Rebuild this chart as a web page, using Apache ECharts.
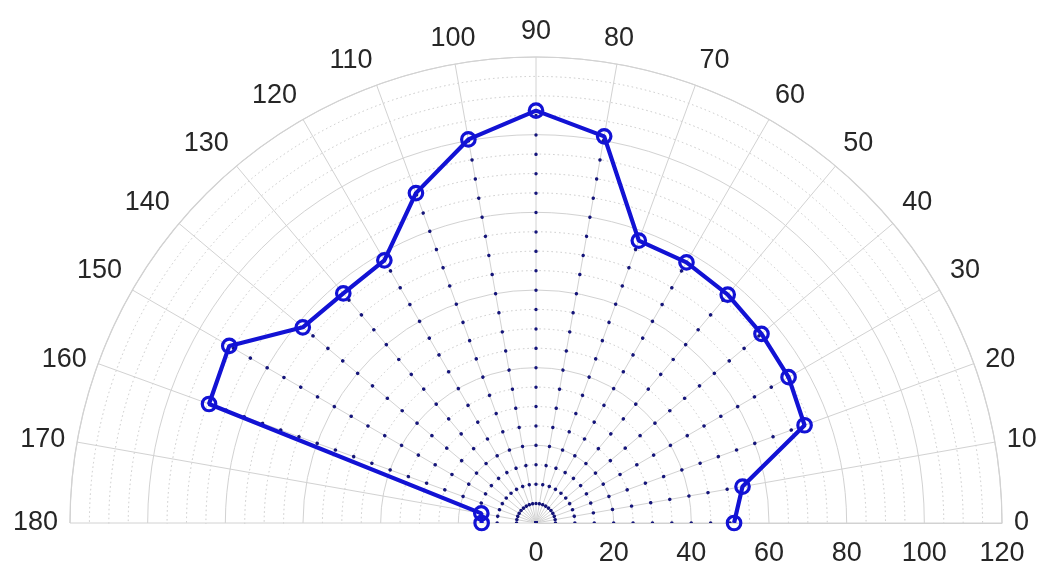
<!DOCTYPE html>
<html>
<head>
<meta charset="utf-8">
<script src="https://cdn.jsdelivr.net/npm/echarts@6/dist/echarts.min.js"></script>
<style>
  html, body { margin: 0; padding: 0; background: #fff; }
  #chart { width: 1045px; height: 567px; }
</style>
</head>
<body>
<div id="chart"></div>
<script>
// angles in degrees, radius values
const angles = [0, 10, 20, 30, 40, 50, 60, 70, 80, 90, 100, 110, 120, 130, 140, 150, 160, 170, 180]
const radii = [51, 54, 73.6, 75.1, 75.8, 76.8, 77.5, 77.4, 101.1, 106.2, 100.3, 90.4, 78.1, 77.2, 78.4, 91.2, 89.6, 14.3, 14.0]
const radiusTicks = [0, 20, 40, 60, 80, 100, 120]
// these two angle labels sit level with their spoke instead of above it
const levelLabels = [20, 160]

const gridColor = '#d2d2d2'
const textColor = '#262626'
const lineBlue = '#1212d4'
const dotBlue = '#15157a'
const labelFont = 'Liberation Sans, Arial, sans-serif'

const chart = echarts.init(document.getElementById('chart'), null, { renderer: 'canvas' })

const polarBox = { center: [536, 523], radius: 466 }

function angleAxisBase(polarIndex) {
  return {
    polarIndex,
    type: 'value',
    min: 0,
    max: 180,
    interval: 10,
    startAngle: 0,
    endAngle: 180,
    clockwise: false,
    axisTick: { show: false },
  }
}

function radiusAxisBase(polarIndex) {
  return {
    polarIndex,
    type: 'value',
    min: radiusTicks[0],
    max: radiusTicks[radiusTicks.length - 1],
    interval: 20,
    axisTick: { show: false },
  }
}

// dotted spokes from the centre to each point
const spokes = angles.map((a, i) => ({
  type: 'line',
  coordinateSystem: 'polar',
  polarIndex: 1,
  data: [[0, a], [radii[i], a]],
  symbol: 'none',
  silent: true,
  z: 4,
  lineStyle: {
    color: dotBlue,
    width: 3.4,
    type: [0.1, 19.3],
    cap: 'round',
  },
}))

const option = {
  backgroundColor: '#ffffff',
  animation: false,
  polar: [polarBox, polarBox, polarBox],
  angleAxis: [
    // grid only
    {
      ...angleAxisBase(0),
      z: 0,
      axisLine: { lineStyle: { color: gridColor, width: 1.2 } },
      axisLabel: { show: false },
      splitLine: { show: true, lineStyle: { color: gridColor, width: 1 } },
    },
    // labels
    {
      ...angleAxisBase(1),
      z: 3,
      axisLine: { show: false },
      splitLine: { show: false },
      axisLabel: {
        fontSize: 27,
        color: textColor,
        fontFamily: labelFont,
        margin: 12,
        formatter: (v) => (levelLabels.includes(v) ? '' : String(v)),
      },
    },
    {
      ...angleAxisBase(2),
      z: 3,
      axisLine: { show: false },
      splitLine: { show: false },
      axisLabel: {
        fontSize: 27,
        color: textColor,
        fontFamily: labelFont,
        margin: 12,
        padding: [0, 0, -14, 0],
        formatter: (v) => (levelLabels.includes(v) ? String(v) : ''),
      },
    },
  ],
  radiusAxis: [
    {
      ...radiusAxisBase(0),
      z: 0,
      axisLine: { show: true, lineStyle: { color: gridColor, width: 1 } },
      axisLabel: { show: false },
      splitLine: { show: true, lineStyle: { color: gridColor, width: 1 } },
      minorTick: { show: false, splitNumber: 4 },
      minorSplitLine: {
        show: true,
        lineStyle: { color: '#c9c9c9', width: 1, type: [1.5, 3] },
      },
    },
    {
      ...radiusAxisBase(1),
      z: 3,
      axisLine: { show: false },
      splitLine: { show: false },
      axisLabel: {
        fontSize: 27,
        color: textColor,
        fontFamily: labelFont,
        margin: -31,
        verticalAlign: 'middle',
      },
    },
    {
      ...radiusAxisBase(2),
      axisLine: { show: false },
      splitLine: { show: false },
      axisLabel: { show: false },
    },
  ],
  // blank out the part of the minor rings that falls below the baseline
  graphic: {
    elements: [
      {
        type: 'rect',
        z: 1,
        silent: true,
        shape: { x: 0, y: 524, width: 1045, height: 43 },
        style: { fill: '#ffffff' },
      },
    ],
  },
  series: [
    ...spokes,
    {
      type: 'line',
      coordinateSystem: 'polar',
      polarIndex: 1,
      data: angles.map((a, i) => [radii[i], a]),
      z: 5,
      symbol: 'circle',
      symbolSize: 13.5,
      showSymbol: true,
      lineStyle: { color: lineBlue, width: 4.2 },
      itemStyle: { color: 'transparent', borderColor: lineBlue, borderWidth: 3.2 },
    },
  ],
}

chart.setOption(option)
</script>
</body>
</html>
